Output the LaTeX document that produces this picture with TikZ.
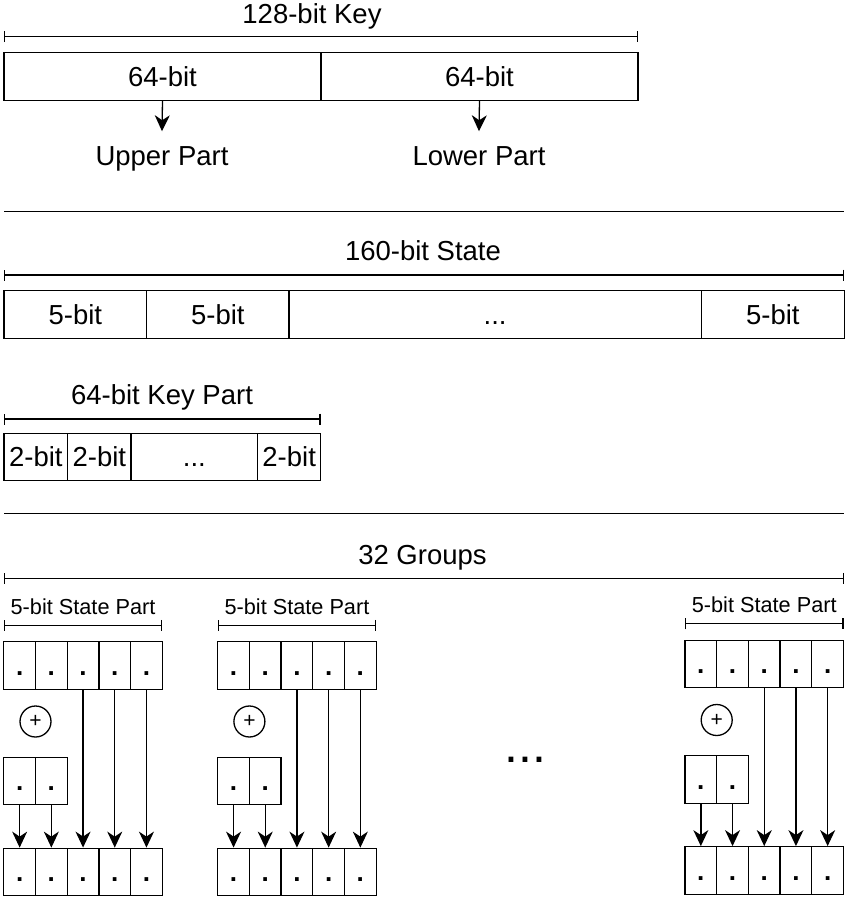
\documentclass[tikz,border=0pt]{standalone}
\usepackage{fontspec}
\setmainfont{Liberation Sans}
\usetikzlibrary{arrows.meta}
\begin{document}
\begin{tikzpicture}[x=1pt,y=-1pt,line width=1.3pt,
  big/.style={font=\fontsize{27.5}{30}\selectfont,text height=19.7pt,text depth=0pt,inner sep=0pt},
  small/.style={font=\fontsize{21.7}{24}\selectfont,text height=15.5pt,text depth=0pt,inner sep=0pt},
  cell/.style={draw,big,minimum height=48pt},
  gcell/.style={draw,big,font=\fontsize{26}{30}\selectfont\bfseries,minimum width=31.7pt,minimum height=47.5pt},
  bracket/.style={{Bar[width=11pt]}-{Bar[width=11pt]}},
  arr/.style={-{Stealth[length=16pt,width=15pt,inset=5pt]}},
  xorc/.style={draw,circle,minimum size=31pt,inner sep=0pt,font=\fontsize{21}{23}\selectfont}]
\useasboundingbox (0,0) rectangle (846,898);

% ---- 128-bit key ----
\node[big] (keylbl) at (312,13.7) {128-bit Key};
\draw[bracket] (4,36.7) -- (638.3,36.7);
\node[cell,minimum width=317pt] (k1) at (162.5,76.5) {64-bit};
\node[cell,minimum width=317pt] (k2) at (479.5,76.5) {64-bit};
\node[big,inner ysep=14.25pt] (up) at (162,156) {Upper Part};
\node[big,inner ysep=14.25pt] (lo) at (479,156) {Lower Part};
\draw[arr] (k1.south) -- (up.north);
\draw[arr] (k2.south) -- (lo.north);

\draw (4,211.7) -- (844.3,211.7);

% ---- 160-bit state ----
\node[big] (stlbl) at (423,251) {160-bit State};
\draw[bracket] (4,275) -- (844.3,275);
\node[cell,minimum width=142.7pt] (s1) at (75.35,314.2) {5-bit};
\node[cell,minimum width=142.3pt] (s2) at (217.85,314.2) {5-bit};
\node[cell,minimum width=412.3pt] (s3) at (495.15,314.2) {...};
\node[cell,minimum width=143pt] (s4) at (772.8,314.2) {5-bit};

% ---- 64-bit key part ----
\node[big] (kplbl) at (162,395) {64-bit Key Part};
\draw[bracket] (4,419) -- (320.7,419);
\node[cell,minimum width=63.7pt,minimum height=47.4pt] (p1) at (35.85,457) {2-bit};
\node[cell,minimum width=63.3pt,minimum height=47.4pt] (p2) at (99.35,457) {2-bit};
\node[cell,minimum width=126.7pt,minimum height=47.4pt] (p3) at (194.35,457) {...};
\node[cell,minimum width=63pt,minimum height=47.4pt] (p4) at (289.2,457) {2-bit};

\draw (4,513.3) -- (844.3,513.3);

% ---- 32 groups ----
\node[big] (grlbl) at (422.5,555) {32 Groups};
\draw[bracket] (4,578.3) -- (844.3,578.3);

\foreach \g/\xo/\yo in {1/3.8/0,2/217.7/0,3/685/-1.5}{
  \node[small] (g\g lbl) at (\xo+79.25,606.5+\yo) {5-bit State Part};
  \draw[bracket] (\xo,625.3+\yo) -- (\xo+158.5,625.3+\yo);
  \foreach \i in {1,...,5}{
    \node[gcell] (g\g t\i) at (\xo+31.7*\i-15.85,665.5+\yo) {.};
    \node[gcell] (g\g b\i) at (\xo+31.7*\i-15.85,872+\yo) {.};
  }
  \foreach \i in {1,2}{
    \node[gcell] (g\g s\i) at (\xo+31.7*\i-15.85,781+\yo) {.};
    \draw[arr] (g\g s\i.south) -- (g\g b\i.north);
  }
  \foreach \i in {3,4,5}{
    \draw[arr] (g\g t\i.south) -- (g\g b\i.north);
  }
  \node[xorc] (g\g x) at (\xo+31.7,721.5+\yo) {+};
}

\node[font=\fontsize{50}{52}\selectfont,inner sep=0pt,anchor=base] (gdots) at (525.5,762) {...};
\end{tikzpicture}
\end{document}
